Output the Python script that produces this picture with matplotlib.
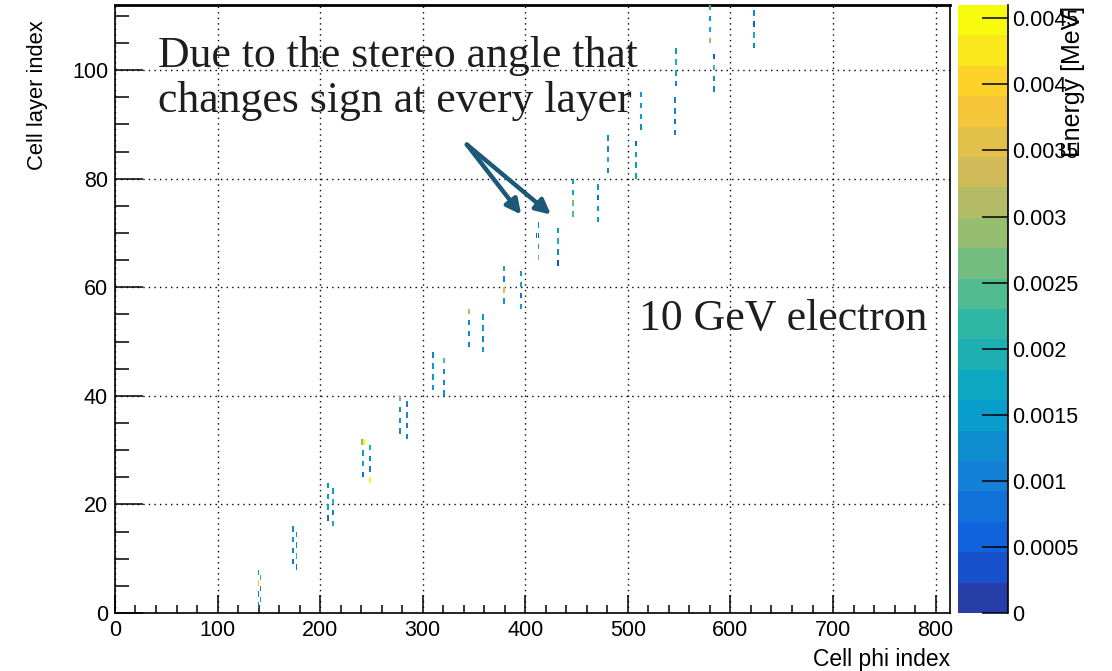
import numpy as np
import matplotlib
matplotlib.use('Agg')
import matplotlib.pyplot as plt
from matplotlib.colors import LinearSegmentedColormap, ListedColormap, BoundaryNorm
from matplotlib.cm import ScalarMappable

plt.rcParams['font.family'] = ['Liberation Sans', 'DejaVu Sans']

# hit cells: layer index, phi index, deposited energy [MeV]
cell_layer = [1, 2, 3, 4, 5, 6, 7,
              8, 9, 10, 11, 12, 13, 14, 15,
              16, 17, 18, 19, 20, 21, 22, 23,
              24, 25, 26, 27, 28, 29, 30, 31, 31,
              32, 33, 34, 35, 36, 37, 38, 39,
              40, 41, 42, 43, 44, 45, 46, 47,
              48, 49, 50, 51, 52, 53, 54, 55,
              56, 57, 58, 59, 60, 61, 62, 63,
              64, 65, 66, 67, 68, 69, 69, 70, 71,
              72, 73, 74, 75, 76, 77, 78, 79,
              80, 81, 82, 83, 84, 85, 86, 87,
              88, 89, 90, 91, 92, 93, 94, 95,
              96, 97, 98, 99, 100, 101, 102, 103,
              104, 105, 106, 107, 108, 109, 110, 111]
cell_phi = [139, 141, 139, 141, 139, 141, 139,
            176, 173, 176, 173, 176, 173, 176, 173,
            212, 207, 212, 207, 212, 207, 212, 207,
            248, 241, 248, 241, 248, 241, 248, 240, 242,
            284, 277, 284, 277, 284, 277, 284, 277,
            320, 309, 320, 309, 320, 309, 320, 309,
            358, 344, 358, 344, 358, 344, 358, 344,
            395, 378, 395, 378, 395, 378, 395, 378,
            431, 412, 431, 412, 431, 410, 412, 431, 412,
            470, 446, 470, 446, 470, 446, 470, 446,
            507, 480, 507, 480, 507, 480, 507, 480,
            545, 512, 545, 512, 545, 512, 545, 512,
            583, 546, 583, 546, 583, 546, 583, 546,
            622, 579, 622, 579, 622, 579, 622, 579]
cell_energy = [0.0009, 0.0014, 0.0009, 0.0010, 0.0039, 0.0022, 0.0015,
               0.0009, 0.0009, 0.0021, 0.0011, 0.0011, 0.0014, 0.0011, 0.0013,
               0.0020, 0.0009, 0.0011, 0.0017, 0.0022, 0.0015, 0.0014, 0.0013,
               0.0044, 0.0008, 0.0010, 0.0018, 0.0011, 0.0016, 0.0019, 0.0029, 0.0045,
               0.0011, 0.0012, 0.0011, 0.0015, 0.0013, 0.0013, 0.0011, 0.0027,
               0.0013, 0.0016, 0.0012, 0.0014, 0.0013, 0.0015, 0.0024, 0.0011,
               0.0015, 0.0011, 0.0010, 0.0012, 0.0014, 0.0013, 0.0014, 0.0032,
               0.0015, 0.0016, 0.0008, 0.0036, 0.0017, 0.0011, 0.0015, 0.0020,
               0.0004, 0.0027, 0.0012, 0.0014, 0.0019, 0.0005, 0.0005, 0.0015, 0.0011,
               0.0015, 0.0023, 0.0015, 0.0027, 0.0006, 0.0017, 0.0014, 0.0015,
               0.0017, 0.0011, 0.0015, 0.0019, 0.0014, 0.0012, 0.0005, 0.0013,
               0.0011, 0.0013, 0.0008, 0.0015, 0.0011, 0.0014, 0.0011, 0.0015,
               0.0011, 0.0011, 0.0012, 0.0017, 0.0025, 0.0020, 0.0005, 0.0016,
               0.0010, 0.0028, 0.0019, 0.0019, 0.0006, 0.0016, 0.0013, 0.0019]

x_ticks = [0, 100, 200, 300, 400, 500, 600, 700, 800]
y_ticks = [0, 20, 40, 60, 80, 100]
z_ticks = [0, 0.0005, 0.001, 0.0015, 0.002, 0.0025, 0.003, 0.0035, 0.004, 0.0045]
z_max = 0.0046
n_levels = 20

# ROOT kBird palette, quantised like a COLZ plot with 20 contours
stops = [0.0, 0.125, 0.25, 0.375, 0.5, 0.625, 0.75, 0.875, 1.0]
red = [0.2082, 0.0592, 0.0780, 0.0232, 0.1802, 0.5301, 0.8186, 0.9956, 0.9764]
green = [0.1664, 0.3599, 0.5041, 0.6419, 0.7178, 0.7492, 0.7328, 0.7862, 0.9832]
blue = [0.5293, 0.8684, 0.8385, 0.7914, 0.6425, 0.4662, 0.3499, 0.1968, 0.0539]
bird = LinearSegmentedColormap.from_list('bird', list(zip(stops, zip(red, green, blue))), N=255)
lvl_colors = [bird(int((i + 0.99) * 255 / n_levels) / 254) for i in range(n_levels)]
cmap = ListedColormap(lvl_colors)
norm = BoundaryNorm(np.linspace(0, z_max, n_levels + 1), n_levels)

fig = plt.figure(figsize=(11.12, 6.71), dpi=100)
ax = fig.add_axes([0.1034, 0.0864, 0.7509, 0.9061])
cax = fig.add_axes([0.8615, 0.0864, 0.0450, 0.9061])

ax.bar(cell_phi, 1, width=1.8, bottom=cell_layer, align='edge',
       color=cmap(norm(cell_energy)), linewidth=0, zorder=3)

ax.set_xlim(0, 814)
ax.set_ylim(0, 112)
ax.set_xticks(x_ticks)
ax.set_xticks(np.arange(0, 814, 20), minor=True)
ax.set_yticks(y_ticks)
ax.set_yticks(np.arange(0, 112, 5), minor=True)
ax.tick_params(which='both', direction='in', top=False, right=False, labelsize=15.5, width=1.1)
ax.tick_params(axis='x', which='major', length=13, pad=5)
ax.tick_params(axis='x', which='minor', length=6)
ax.tick_params(axis='y', which='major', length=20, pad=5)
ax.tick_params(axis='y', which='minor', length=10)
ax.grid(True, which='major', color='black', linestyle=(0, (1, 3)), linewidth=1.0, zorder=1)
for side in ax.spines:
    ax.spines[side].set_linewidth(1.2)
ax.spines['top'].set_linewidth(2.0)

ax.set_xlabel('Cell phi index', loc='right', fontsize=16.5, labelpad=5)
ax.set_ylabel('Cell layer index', loc='top', fontsize=15.8)
ax.yaxis.set_label_coords(-0.080, 0.975)

# annotations
serif = dict(fontsize=31.5, family='Liberation Serif', color='#1e1e1e')
ax.text(42, 100.6, 'Due to the stereo angle that', **serif)
ax.text(42, 92.3, 'changes sign at every layer', **serif)
ax.text(511, 52.2, '10 GeV electron', **serif)
arrow_start = (343, 86.3)
arrow_ends = [(396, 73.4), (425, 73.4)]
for end in arrow_ends:
    ax.annotate('', xy=end, xytext=arrow_start, zorder=5,
                arrowprops=dict(arrowstyle='-|>', lw=3.2, color='#1c5878', mutation_scale=22,
                                shrinkA=0, shrinkB=0))

# colour scale
cbar = fig.colorbar(ScalarMappable(norm=norm, cmap=cmap), cax=cax)
cbar.outline.set_visible(False)
cax.plot([1, 1], [0, 1], transform=cax.transAxes, color='black', lw=1.2, clip_on=False)
cbar.set_ticks(z_ticks)
cbar.set_ticklabels(['%g' % z for z in z_ticks])
cax.minorticks_off()
cax.tick_params(direction='in', length=19, width=1.1, labelsize=15.5, pad=3)
fig.text(0.9645, 0.766, 'Energy [MeV]', rotation=90, ha='center', va='bottom', fontsize=18)

fig.savefig('out.png', dpi=100)
